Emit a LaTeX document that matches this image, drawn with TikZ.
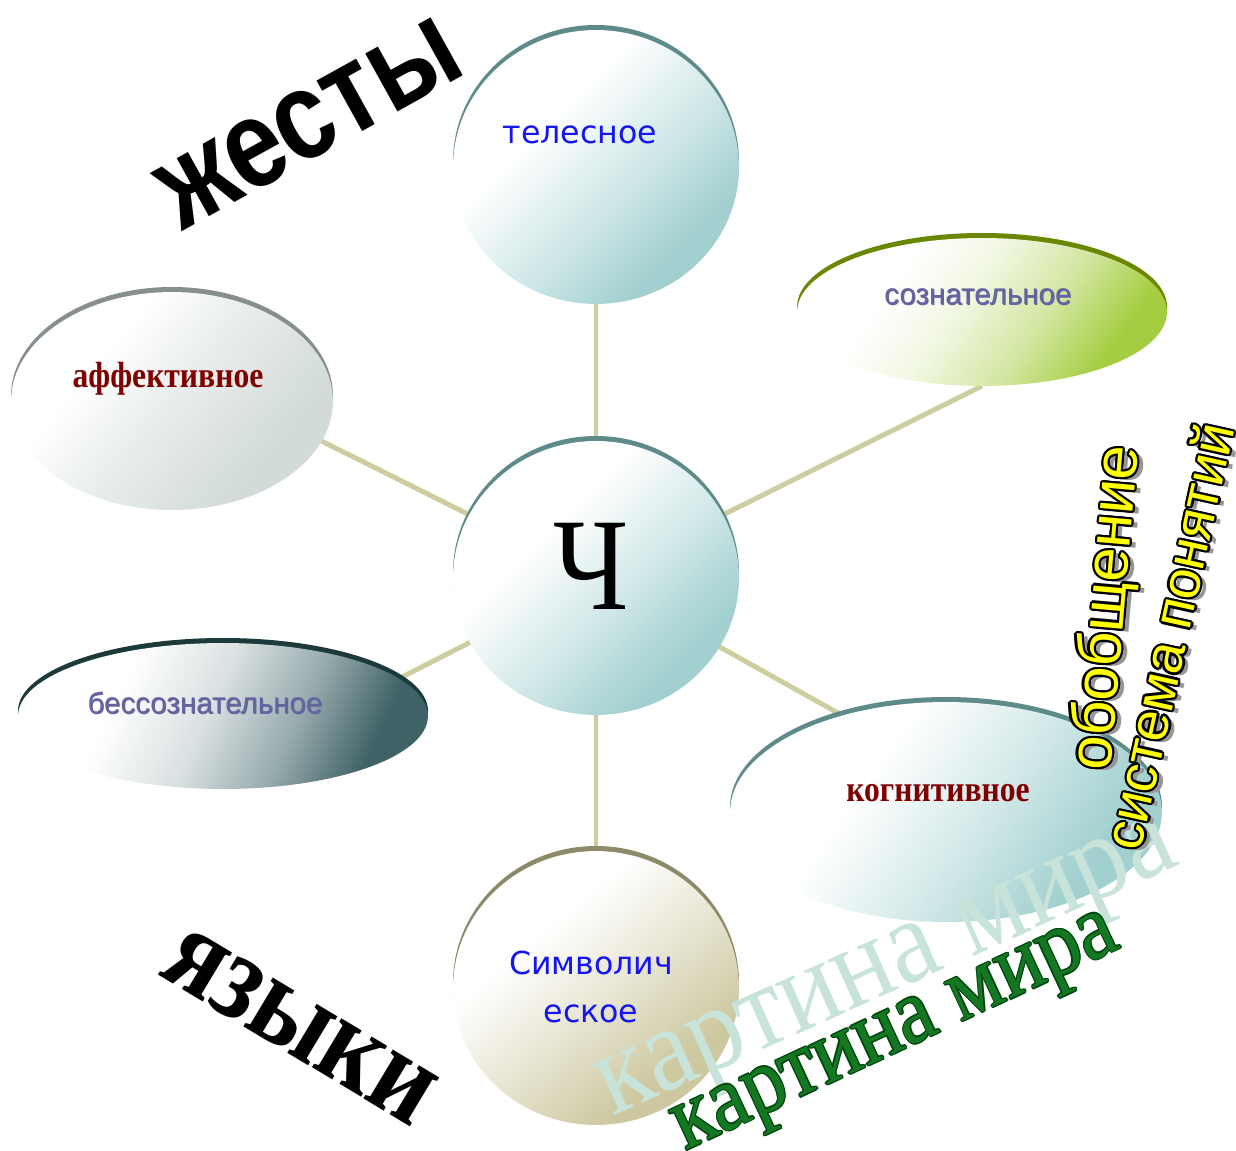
\documentclass[tikz,border=0pt]{standalone}
\usepackage{fontspec}
\setmainfont{Liberation Serif}
\newfontfamily\fLS{Liberation Sans}
\newfontfamily\fDV{DejaVu Sans}
\usetikzlibrary{shapes.geometric,calc}
\pgfdeclarelayer{background}
\pgfsetlayers{background,main}

\definecolor{cTeal}{RGB}{162,208,208}
\definecolor{rTeal}{RGB}{95,138,138}
\definecolor{cGreen}{RGB}{165,205,65}
\definecolor{rGreen}{RGB}{105,135,0}
\definecolor{cGray}{RGB}{210,218,218}
\definecolor{rGray}{RGB}{135,142,142}
\definecolor{cSlate}{RGB}{62,98,102}
\definecolor{rSlate}{RGB}{28,58,58}
\definecolor{cKhaki}{RGB}{205,200,160}
\definecolor{rKhaki}{RGB}{140,138,105}
\definecolor{cLine}{RGB}{205,205,160}
\definecolor{tBlue}{RGB}{20,20,245}
\definecolor{tSlate}{RGB}{100,100,160}
\definecolor{tRed}{RGB}{128,0,0}
\definecolor{tGreen}{RGB}{20,120,35}
\definecolor{tGreenD}{RGB}{0,70,15}
\definecolor{tFaint}{RGB}{200,228,218}
\definecolor{tYellow}{RGB}{255,255,0}
\definecolor{yShadow}{RGB}{150,150,150}

\pgfdeclareverticalshading{shTeal}{100bp}{color(0bp)=(cTeal); color(29bp)=(cTeal); color(46bp)=(cTeal!45!white); color(62bp)=(white); color(100bp)=(white)}
\pgfdeclareverticalshading{shGreen}{100bp}{color(0bp)=(cGreen); color(27bp)=(cGreen); color(40bp)=(cGreen!50!white); color(54bp)=(cGreen!15!white); color(66bp)=(white); color(100bp)=(white)}
\pgfdeclareverticalshading{shGray}{100bp}{color(0bp)=(cGray); color(30bp)=(cGray); color(50bp)=(cGray!50!white); color(65bp)=(white); color(100bp)=(white)}
\pgfdeclareverticalshading{shSlate}{100bp}{color(0bp)=(cSlate); color(27bp)=(cSlate); color(39bp)=(cSlate!55!white); color(52bp)=(cSlate!20!white); color(66bp)=(white); color(100bp)=(white)}
\pgfdeclareverticalshading{shKhaki}{100bp}{color(0bp)=(cKhaki); color(30bp)=(cKhaki); color(48bp)=(cKhaki!45!white); color(64bp)=(white); color(100bp)=(white)}

% #1 name, #2 x, #3 y, #4 rx, #5 ry, #6 shading, #7 rim colour, #8 shading angle
\newcommand\bubble[8]{%
  \fill[#7] (#2,#3-5) ellipse [x radius=#4*0.02cm, y radius=#5*0.02cm];
  \node[bub, shading=#6, shading angle=#8, minimum width=#4*0.04cm, minimum height=#5*0.04cm] (#1) at (#2,#3) {};
}
% #1 name, #2 x, #3 y, #4 angle, #5 size, #6 text
\newcommand\ylabel[6]{%
  \node[lbl, font=\fLS\fontsize{#5}{#5}\selectfont, text=yShadow, rotate=#4] at (#2+6,#3+3) {#6};
  \foreach \a in {0,30,...,330}
    \node[lbl, font=\fLS\fontsize{#5}{#5}\selectfont, text=black, rotate=#4] at ($(#2,#3)+(\a:2.3)$) {#6};
  \node[lbl, font=\fLS\fontsize{#5}{#5}\selectfont, text=tYellow, rotate=#4] (#1) at (#2,#3) {#6};
}
% slightly heavier slate label: #1 name, #2 x, #3 y, #4 text
\newcommand\slabel[4]{%
  \node[slate lbl] at (#2+0.8,#3+0.5) {#4};
  \node[slate lbl] (#1) at (#2,#3) {#4};
}

\begin{document}
\begin{tikzpicture}[x=0.02cm,y=-0.02cm,
  conn/.style={draw=cLine,line width=2.8pt},
  bub/.style={ellipse, inner sep=0pt, outer sep=0pt},
  lbl/.style={inner sep=0pt, outer sep=0pt},
  blue lbl/.style={lbl, font=\fDV\fontsize{18}{27}\selectfont, text=tBlue, align=center},
  slate lbl/.style={lbl, font=\fLS\fontsize{16.8}{20}\selectfont, text=tSlate},
  red lbl/.style={lbl, font=\bfseries\fontsize{18}{20}\selectfont, text=tRed, yscale=1.15},
]
\useasboundingbox (0,0) rectangle (1236,1151);

% shapes
\bubble{tel}{596}{167}{143}{137}{shTeal}{rTeal}{45}
\bubble{soz}{982}{312}{185}{74}{shGreen}{rGreen}{55}
\bubble{aff}{172}{401}{161}{109}{shGray}{rGray}{50}
\bubble{bes}{223}{716}{205}{73}{shSlate}{rSlate}{65}
\bubble{kog}{946}{812}{216}{110}{shTeal}{rTeal}{55}
\bubble{sym}{596}{988}{143}{137}{shKhaki}{rKhaki}{40}
\bubble{ch}{596}{578}{143}{137}{shTeal}{rTeal}{45}

% labels inside shapes
\node[blue lbl] (tTel) at (580,135) {телесное};
\slabel{tSoz}{978}{297}{сознательное}
\node[red lbl] (tAff) at (168,379) {аффективное};
\slabel{tBes}{205}{703}{бессознательное}
\node[red lbl] (tKog) at (938,793) {когнитивное};
\node[blue lbl] (tSym) at (591,987) {Символич\\еское};
\node[lbl, font=\fontsize{75}{75}\selectfont, xscale=0.88] (tCh) at (591,566) {Ч};

% big words
\node[lbl, font=\fLS\bfseries\fontsize{59.5}{60}\selectfont, rotate=29, yscale=1.2] (wGest) at (310,123) {жесты};
\node[lbl, font=\bfseries\fontsize{59}{59}\selectfont, rotate=-31, yscale=1.2] (wLang) at (300,1027) {языки};

% faint copy of "картина мира"
\node[lbl, font=\fontsize{62}{62}\selectfont, text=tFaint, rotate=24, yscale=1.1, anchor=base] (kmF) at (897,990) {картина мира};

% yellow outlined words
\ylabel{wObob}{1108}{608}{85}{35}{обобщение}
\ylabel{wSys}{1168}{636}{77.5}{31.5}{система понятий}

% green "картина мира"
\foreach \a in {0,45,...,315}
  \node[lbl, font=\fontsize{48}{48}\selectfont, text=tGreenD, rotate=25, yscale=1.1, anchor=base] at ($(904,1049)+(\a:1.3)$) {картина мира};
\node[lbl, font=\fontsize{48}{48}\selectfont, text=tGreen, rotate=25, yscale=1.1, anchor=base] (km) at (904,1049) {картина мира};

% connectors behind everything
\begin{pgfonlayer}{background}
  \fill[white] (0,0) rectangle (1236,1151);
  \draw[conn] (ch.center) -- (tel.south);
  \draw[conn] (ch.center) -- (soz.south);
  \draw[conn] (ch.center) -- (aff.-15);
  \draw[conn] (ch.center) -- (bes.12);
  \draw[conn] (ch.center) -- (kog.137);
  \draw[conn] (ch.center) -- (sym.north);
\end{pgfonlayer}
\end{tikzpicture}
\end{document}
